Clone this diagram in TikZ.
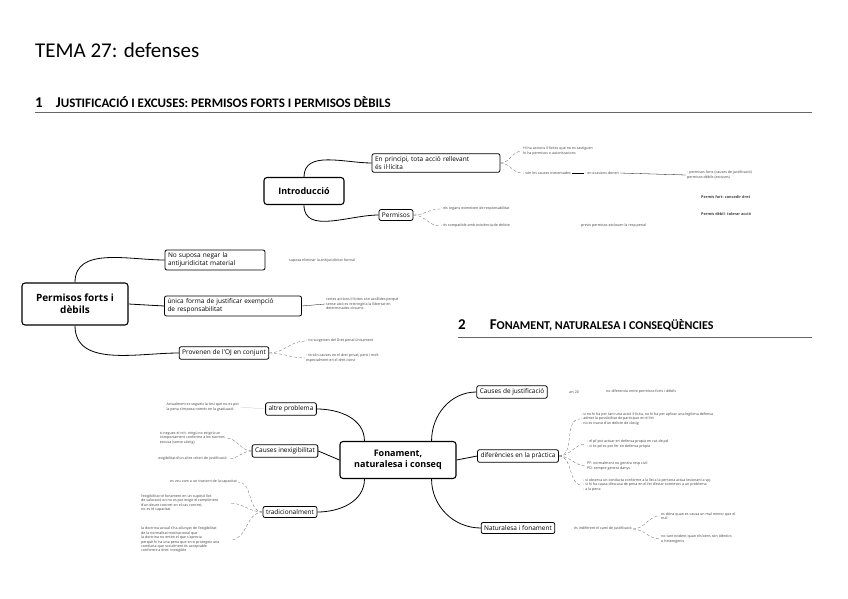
\documentclass[tikz,border=0pt]{standalone}
\usepackage{fontspec}
\setmainfont{Carlito}
\newfontfamily\sans{Open Sans}
\begin{document}
\begin{tikzpicture}[x=1pt,y=-1pt,
 box/.style={draw,rounded corners=2pt,line width=0.8pt,inner sep=3pt,font=\sans\fontsize{6.5}{7.5}\selectfont,align=left},
 big/.style={draw,rounded corners=3pt,line width=1.1pt,font=\sans\bfseries\fontsize{9}{11}\selectfont,align=center},
 note/.style={font=\sans\fontsize{3.6}{4.4}\selectfont,text=black!75,align=left,inner sep=1pt,anchor=west},
 br/.style={line width=0.8pt},
 dsh/.style={densely dashed,line width=0.3pt,black!60}]
\useasboundingbox (0,0) rectangle (848,599);
\node[anchor=west,font=\fontsize{21}{24}\selectfont,inner sep=0] (t) at (35,50) {TEMA 27: defenses};
\node[anchor=west,font=\bfseries\fontsize{13}{15}\selectfont,inner sep=0] (h1) at (35,102) {{\fontsize{15}{16}\selectfont 1}\quad{\fontsize{15}{16}\selectfont J}USTIFICACIÓ I EXCUSES: PERMISOS FORTS I PERMISOS DÈBILS};
\draw[black!60,line width=0.4pt] (35,112) -- (812,112);
\node[anchor=west,font=\bfseries\fontsize{12}{14}\selectfont,inner sep=0] (h2) at (458,325) {{\fontsize{15}{16}\selectfont 2}\qquad{\fontsize{15}{16}\selectfont F}ONAMENT, NATURALESA I CONSEQÜÈNCIES};
\draw[black!60,line width=0.4pt] (458,337) -- (812,337);

% Introduccio
\node[big,minimum width=80,minimum height=27] (intro) at (304,191) {Introducció};
\node[box,text width=122] (ep) at (436,163) {En principi, tota acció rellevant\\ és il·lícita};
\node[box] (perm) at (396,215) {Permisos};
\draw[br] (intro.north) to[out=90,in=180] (ep.west);
\draw[br] (intro.south) to[out=-90,in=180] (perm.west);
\node[note] (n1) at (522,151) {Hi ha accions il·lícites que no es castiguen\\ hi ha permisos o autoritzacions};
\node[note] (n2) at (522,173) {- són les causes esmentades};
\node[note] (n3) at (584,173) {- en ocasions donen};
\node[note] (n4) at (686,175) {- permisos forts (causes de justificació)\\ permisos dèbils (excuses)};
\draw[dsh] (ep.east) to[out=0,in=180] (n1.west);
\draw[dsh] (ep.east) to[out=0,in=180] (n2.west);
\draw[line width=0.3pt] (n2.east) -- (n3.west);
\draw[line width=0.3pt] (n3.east) -- (n4.west);
\node[note,font=\sans\bfseries\fontsize{3.8}{4.5}\selectfont] (pf) at (700,197) {Permís fort: concedir dret};
\node[note,font=\sans\bfseries\fontsize{3.8}{4.5}\selectfont] (pd) at (700,214) {Permís dèbil: tolerar acció};
\node[note] (n5) at (440,209) {- els òrgans eximeixen de responsabilitat};
\node[note] (n6) at (440,226) {- és compatible amb existència de delicte};
\node[note] (n7) at (580,226) {previs permisos exclouen la resp penal};
\draw[dsh] (perm.east) to[out=0,in=180] (n5.west);
\draw[dsh] (perm.east) to[out=0,in=180] (n6.west);

% Permisos forts i debils
\node[big,minimum width=106,minimum height=42,font=\sans\bfseries\fontsize{10}{12}\selectfont] (pfd) at (75,304) {Permisos forts i\\ dèbils};
\node[box,text width=94] (ns) at (215,260) {No suposa negar la\\ antijuridicitat material};
\node[box,text width=131] (uf) at (233,306) {única forma de justificar exempció\\ de responsabilitat};
\node[box] (pv) at (224,353) {Provenen de l'OJ en conjunt};
\draw[br] (pfd.north) to[out=90,in=180] (ns.west);
\draw[br] (pfd.east) -- (uf.west);
\draw[br] (pfd.south) to[out=-90,in=180] (pv.west);
\node[note] (n8) at (288,261) {suposa eliminar la antijuridicitat formal};
\node[note] (n9) at (325,304) {certes accions il·lícites són acollides perquè\\ sense això es restringiria la llibertat en\\ determinades circums};
\draw[line width=0.3pt] (uf.east) -- (n9.west);
\node[note] (n10) at (305,341) {- no surgeixen del Dret penal únicament};
\node[note] (n11) at (305,358) {- tb són causes en el dret privat, però i molt\\ especialment en el dret const};
\draw[dsh] (pv.east) to[out=0,in=180] (n10.west);
\draw[dsh] (pv.east) to[out=0,in=180] (n11.west);

% Fonament
\node[big,minimum width=116,minimum height=37] (fn) at (398,460) {Fonament,\\ naturalesa i conseq};
\node[box] (ap) at (291,409) {altre problema};
\node[box] (ci) at (285,451) {Causes inexigibilitat};
\node[box] (tr) at (290,512) {tradicionalment};
\node[box] (cj) at (512,392) {Causes de justificació};
\node[box] (dp) at (518,456) {diferències en la pràctica};
\node[box] (nf) at (518,528) {Naturalesa i fonament};
\draw[br] (fn.north west) ++(25,0) to[out=90,in=0] (ap.east);
\draw[br] (fn.west) -- (ci.east);
\draw[br] (fn.south west) ++(25,0) to[out=-90,in=0] (tr.east);
\draw[br] (fn.north east) ++(-25,0) to[out=90,in=180] (cj.west);
\draw[br] (fn.east) -- (dp.west);
\draw[br] (fn.south east) ++(-25,0) to[out=-90,in=180] (nf.west);

\node[note,anchor=east] (a1) at (240,407) {Actualment es segueix la tesi que no es pot\\ la pena s'imposa només en la graduació};
\draw[line width=0.2pt,black!30] (a1.east) -- (ap.west);
\node[note,anchor=east] (c1) at (226,438) {si negues el crit. ningú no exigirà un\\ comportament conforme a les normes\\ excusa (sense càstig)};
\node[note,anchor=east] (c2) at (228,459) {exigibilitat d'un altre criteri de justificació};
\draw[dsh] (ci.west) to[out=180,in=0] (c1.east);
\draw[dsh] (ci.west) to[out=180,in=0] (c2.east);
\node[note,anchor=east] (t1) at (238,482) {es veu com a un trastorn de la capacitat};
\node[note] (t2) at (140,503) {l'exigibilitat té fonament en un supòsit lícit\\ de valoració on no es pot exigir el compliment\\ d'un deure concret en el cas concret,\\ no es té capacitat};
\node[note] (t3) at (140,540) {la doctrina actual s'ha allunyat de l'exigibilitat\\ de la normalitat motivacional que\\ la doctrina no entén el que s'aprecia\\ perquè hi ha una pena que en si protegeix una\\ conducta que socialment és acceptable\\ conforme a dret: inexigible};
\draw[dsh] (tr.west) to[out=180,in=0] (t1.east);
\draw[dsh] (tr.west) to[out=180,in=0] ([xshift=10]t2.east);
\draw[dsh] (tr.west) to[out=180,in=0] ([xshift=10]t3.east);
\node[note] (cj1) at (568,392) {art 20};
\node[note] (cj2) at (605,392) {no diferencia entre permisos forts i dèbils};
\node[note] (d1) at (580,419) {- si no hi ha per tant una acció il·lícita, no hi ha per aplicar una legítima defensa\\ - admet la possibilitat de participar en el fet\\ - no es tracta d'un delicte de càstig};
\node[note] (d2) at (586,444) {- el pf pot actuar en defensa propia en cas de pd\\ - si és pd es pot fer en defensa pròpia};
\node[note] (d3) at (586,466) {PF: normalment no genera resp civil\\ PD: sempre genera danys};
\node[note] (d4) at (582,485) {- si observa un conducta conforme a la llei a la persona actua lesionant a vpj\\ - si hi ha causa d'excusa de pena en el fet d'estar sotmesos a un problema\\ - a la pena};
\foreach \d in {d1,d2,d3,d4} \draw[dsh] (dp.east) to[out=0,in=180] (\d.west);
\node[note] (nf1) at (573,529) {és indiferent el camí de justificació};
\node[note] (nf2) at (660,516) {es dóna quan es causa un mal menor que el\\ mal};
\node[note] (nf3) at (660,539) {no tant evident quan els béns són idèntics\\ o heterogenis};
\draw[dsh] (nf1.east) to[out=0,in=180] (nf2.west);
\draw[dsh] (nf1.east) to[out=0,in=180] (nf3.west);
\end{tikzpicture}
\end{document}
